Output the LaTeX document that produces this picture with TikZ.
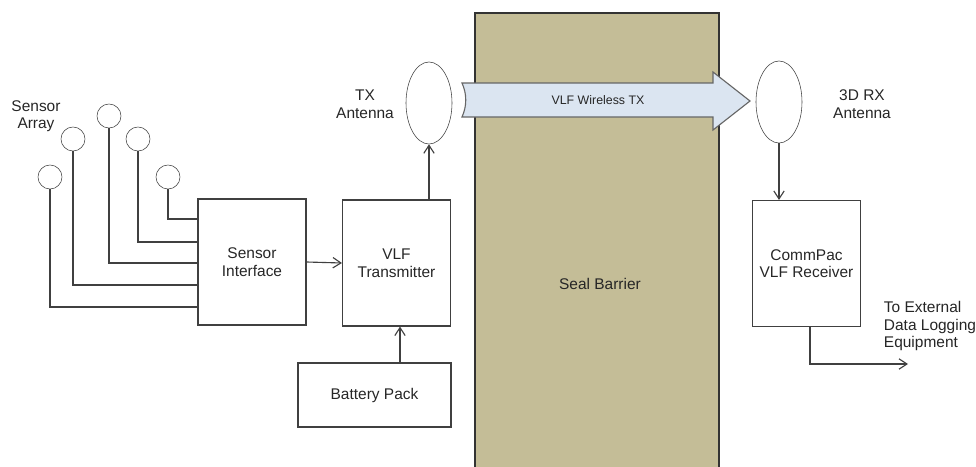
\documentclass[tikz,border=0pt]{standalone}
\usepackage{fontspec}
\setmainfont{Liberation Sans}
\usetikzlibrary{arrows.meta, shapes.geometric}

\definecolor{sealtan}{HTML}{C4BD97}
\definecolor{wavefill}{HTML}{DBE5F1}
\definecolor{linegray}{HTML}{404040}

\begin{document}
\begin{tikzpicture}[
            x=0.025cm, y=-0.025cm,
            every node/.style={text=black!85},
            box/.style={draw=linegray, line width=0.8pt, minimum width=2.7cm,
                        minimum height=3.15cm, align=center, font=\fontsize{11}{12.5}\selectfont},
            sensor/.style={draw=linegray, circle, minimum size=0.6cm, inner sep=0pt},
            antenna/.style={draw=linegray, ellipse, minimum width=1.15cm,
                            minimum height=2.05cm, inner sep=0pt},
            lbl/.style={align=center, font=\fontsize{11}{12.5}\selectfont},
            wire/.style={draw=linegray, line width=0.8pt},
            arr/.style={wire, -{Straight Barb[length=2mm, width=2.6mm]}}
        ]
        \useasboundingbox (0,0) rectangle (976,467);

        % Seal barrier, runs off the bottom edge
        \node[draw=black!80, line width=1.2pt, fill=sealtan, minimum width=6.1cm,
              minimum height=11.55cm] (seal) at (597, 244) {};
        \node[lbl] (sealtxt) at (600, 284) {Seal Barrier};

        % VLF wireless link
        \draw[draw=black!60, line width=0.8pt, fill=wavefill]
            (462, 83) -- (713, 83) -- (713, 72) -- (750, 101) -- (713, 130)
            -- (713, 117) -- (462, 117) .. controls (467, 106) and (467, 94) .. cycle;
        \node[font=\fontsize{8.8}{10}\selectfont] (wave) at (598, 100) {VLF Wireless TX};

        % Sensor array
        \node[lbl] (arraytxt) at (36, 116) {Sensor\\Array};
        \node[sensor] (s1) at (50, 177) {};
        \node[sensor] (s2) at (73, 139) {};
        \node[sensor] (s3) at (109, 116) {};
        \node[sensor] (s4) at (138, 139) {};
        \node[sensor] (s5) at (168, 177) {};

        % Transmit side
        \node[box] (si) at (252, 262) {Sensor\\Interface};
        \node[box] (vt) at (396.5, 263) {VLF\\Transmitter};
        \node[box, minimum width=3.825cm, minimum height=1.6cm] (bp) at (374.5, 395) {Battery Pack};
        \node[antenna] (txa) at (429, 103) {};
        \node[lbl] (txtxt) at (365, 104) {TX\\Antenna};

        \foreach \s/\yy in {1/307, 2/285, 3/263, 4/242, 5/219}
            \draw[wire] (s\s.south) |- (si.west |- 0,\yy);
        \draw[arr] (si.east) -- (vt.west);
        \draw[arr] (bp.north -| 400,0) -- (vt.south -| 400,0);
        \draw[arr] (txa.south |- vt.north) -- (txa.south);

        % Receive side
        \node[antenna] (rxa) at (779, 102) {};
        \node[lbl] (rxtxt) at (862, 104) {3D RX\\Antenna};
        \node[box] (cp) at (806.5, 263.5) {CommPac\\VLF Receiver};
        \coordinate (dl) at (908, 364);
        \node[lbl, align=left, anchor=west] (dltxt) at (879, 326) {To External\\Data Logging\\Equipment};

        \draw[arr] (rxa.south) -- (rxa.south |- cp.north);
        \draw[arr] (cp.south -| 810,0) |- (dl);
\end{tikzpicture}
\end{document}
